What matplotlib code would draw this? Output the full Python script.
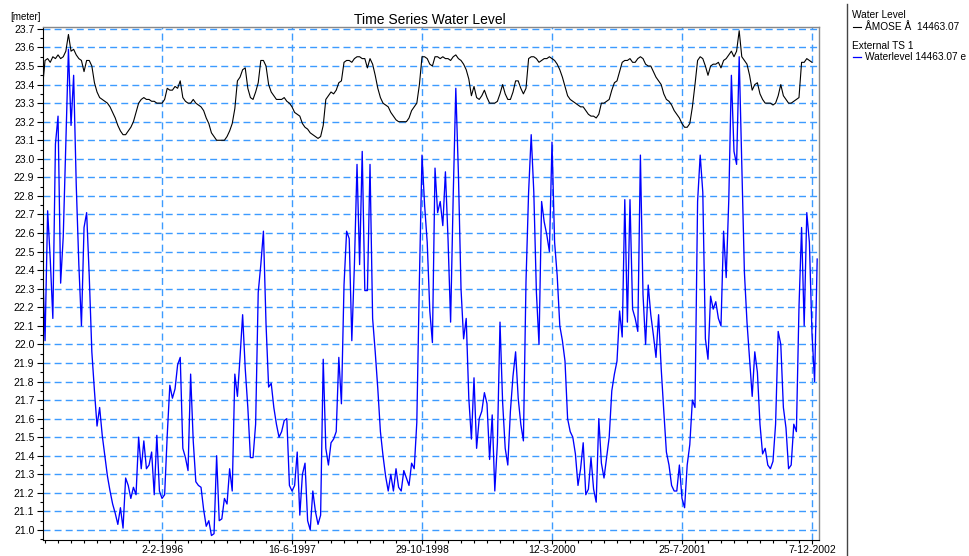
import matplotlib
matplotlib.use("Agg")
import matplotlib.pyplot as plt
import matplotlib.dates as mdates
from matplotlib.ticker import FixedLocator, MultipleLocator, FuncFormatter
from matplotlib.lines import Line2D
import pandas as pd

plt.rcParams['font.family'] = ['Liberation Sans', 'DejaVu Sans']

# samples every 10 days
start_date = "1994-10-30"
step_days = 10

water_level = [
    23.38, 23.53, 23.54, 23.52, 23.55, 23.54, 23.56, 23.54, 23.55, 23.58,
    23.67, 23.58, 23.59, 23.56, 23.54, 23.53, 23.47, 23.53, 23.53, 23.50,
    23.41, 23.36, 23.33, 23.32, 23.31, 23.30, 23.28, 23.25, 23.22, 23.18,
    23.15, 23.13, 23.13, 23.15, 23.17, 23.20, 23.25, 23.30, 23.32, 23.33,
    23.32, 23.32, 23.31, 23.31, 23.30, 23.30, 23.30, 23.32, 23.38, 23.37,
    23.37, 23.39, 23.38, 23.42, 23.33, 23.31, 23.30, 23.30, 23.32, 23.30,
    23.29, 23.28, 23.26, 23.22, 23.19, 23.14, 23.12, 23.10, 23.10, 23.10,
    23.10, 23.12, 23.15, 23.19, 23.27, 23.42, 23.44, 23.48, 23.49, 23.38,
    23.33, 23.32, 23.36, 23.41, 23.53, 23.53, 23.50, 23.40, 23.36, 23.34,
    23.32, 23.32, 23.32, 23.33, 23.31, 23.30, 23.28, 23.25, 23.24, 23.23,
    23.19, 23.17, 23.16, 23.14, 23.13, 23.12, 23.11, 23.12, 23.18, 23.32,
    23.34, 23.36, 23.35, 23.37, 23.41, 23.42, 23.52, 23.53, 23.53, 23.52,
    23.54, 23.55, 23.55, 23.54, 23.54, 23.49, 23.54, 23.51, 23.45, 23.38,
    23.33, 23.30, 23.29, 23.28, 23.25, 23.23, 23.21, 23.20, 23.20, 23.20,
    23.20, 23.22, 23.26, 23.28, 23.30, 23.40, 23.55, 23.55, 23.54, 23.51,
    23.50, 23.55, 23.55, 23.54, 23.55, 23.54, 23.54, 23.53, 23.55, 23.56,
    23.54, 23.53, 23.51, 23.48, 23.43, 23.34, 23.39, 23.33, 23.32, 23.34,
    23.37, 23.33, 23.30, 23.30, 23.30, 23.31, 23.35, 23.40, 23.35, 23.32,
    23.32, 23.36, 23.42, 23.42, 23.38, 23.35, 23.38, 23.54, 23.55, 23.55,
    23.54, 23.52, 23.53, 23.54, 23.54, 23.55, 23.54, 23.53, 23.51, 23.48,
    23.44, 23.39, 23.34, 23.32, 23.31, 23.30, 23.29, 23.28, 23.28, 23.26,
    23.24, 23.23, 23.23, 23.22, 23.24, 23.30, 23.30, 23.31, 23.32, 23.37,
    23.41, 23.42, 23.47, 23.52, 23.53, 23.53, 23.54, 23.52, 23.52, 23.54,
    23.55, 23.54, 23.51, 23.50, 23.50, 23.47, 23.44, 23.42, 23.40, 23.35,
    23.32, 23.31, 23.29, 23.26, 23.24, 23.22, 23.19, 23.17, 23.17, 23.19,
    23.28, 23.40, 23.53, 23.55, 23.54, 23.50, 23.45, 23.50, 23.51, 23.51,
    23.52, 23.49, 23.53, 23.54, 23.56, 23.58, 23.55, 23.58, 23.69, 23.55,
    23.53, 23.51, 23.45, 23.37, 23.40, 23.41, 23.35, 23.32, 23.30, 23.30,
    23.30, 23.29, 23.30, 23.34, 23.40, 23.34, 23.32, 23.30, 23.30, 23.31,
    23.32, 23.33, 23.52, 23.52, 23.54, 23.53, 23.52,
]

external_ts = [
    22.46, 22.02, 22.72, 22.46, 22.14, 23.08, 23.23, 22.33, 22.58, 23.09,
    23.59, 23.18, 23.45, 22.86, 22.43, 22.10, 22.63, 22.71, 22.37, 21.96,
    21.75, 21.56, 21.66, 21.51, 21.40, 21.29, 21.21, 21.14, 21.09, 21.03,
    21.12, 21.01, 21.28, 21.24, 21.17, 21.23, 21.19, 21.50, 21.33, 21.48,
    21.33, 21.35, 21.42, 21.19, 21.51, 21.21, 21.17, 21.19, 21.51, 21.78,
    21.71, 21.76, 21.89, 21.93, 21.44, 21.39, 21.32, 21.84, 21.48, 21.26,
    21.24, 21.23, 21.11, 21.02, 21.05, 20.97, 20.98, 21.40, 21.05, 21.06,
    21.17, 21.14, 21.33, 21.21, 21.84, 21.72, 21.93, 22.16, 21.87, 21.66,
    21.39, 21.39, 21.57, 22.28, 22.43, 22.61, 22.11, 21.77, 21.79, 21.66,
    21.57, 21.50, 21.53, 21.59, 21.60, 21.24, 21.21, 21.24, 21.42, 21.08,
    21.30, 21.36, 21.05, 21.00, 21.21, 21.10, 21.03, 21.08, 21.92, 21.44,
    21.35, 21.47, 21.49, 21.53, 21.93, 21.68, 22.32, 22.61, 22.57, 22.02,
    22.43, 22.97, 22.43, 23.04, 22.29, 22.29, 22.97, 22.14, 21.96, 21.76,
    21.53, 21.40, 21.29, 21.21, 21.30, 21.21, 21.33, 21.23, 21.21, 21.32,
    21.28, 21.24, 21.36, 21.33, 21.58, 22.35, 23.02, 22.75, 22.55, 22.18,
    22.01, 22.95, 22.71, 22.77, 22.64, 22.93, 22.57, 22.12, 22.80, 23.38,
    22.92, 22.30, 22.03, 22.14, 21.71, 21.49, 21.82, 21.44, 21.60, 21.64,
    21.74, 21.68, 21.38, 21.62, 21.21, 21.47, 22.12, 21.69, 21.44, 21.35,
    21.64, 21.83, 21.96, 21.71, 21.57, 21.48, 22.34, 22.82, 23.13, 22.82,
    22.28, 22.00, 22.77, 22.66, 22.59, 22.50, 23.09, 22.55, 22.37, 22.10,
    22.02, 21.91, 21.60, 21.53, 21.50, 21.41, 21.24, 21.33, 21.47, 21.19,
    21.22, 21.39, 21.22, 21.15, 21.60, 21.36, 21.28, 21.39, 21.50, 21.75,
    21.84, 21.91, 22.18, 22.04, 22.78, 22.12, 22.78, 22.19, 22.14, 22.07,
    23.02, 22.27, 22.00, 22.32, 22.16, 22.05, 21.93, 22.16, 21.87, 21.64,
    21.42, 21.35, 21.24, 21.21, 21.21, 21.35, 21.17, 21.12, 21.35, 21.46,
    21.70, 21.66, 22.77, 23.02, 22.82, 22.03, 21.92, 22.26, 22.19, 22.23,
    22.14, 22.10, 22.61, 22.36, 22.78, 23.45, 23.04, 22.97, 23.55, 22.97,
    22.39, 22.12, 21.92, 21.72, 21.96, 21.85, 21.57, 21.41, 21.44, 21.35,
    21.33, 21.37, 21.57, 22.07, 22.00, 21.66, 21.55, 21.33, 21.35, 21.57,
    21.53, 22.20, 22.63, 22.10, 22.71, 22.55, 22.06, 21.80, 22.46,
]

major_tick_start = "1996-02-02"
major_tick_days = 500
minor_tick_days = 50

title = "Time Series Water Level"
unit_label = "[meter]"
legend_group_1 = "Water Level"
legend_label_1 = "ÅMOSE Å  14463.07"
legend_group_2 = "External TS 1"
legend_label_2 = "Waterlevel 14463.07 e"

dates_wl = pd.date_range(start_date, periods=len(water_level), freq=f"{step_days}D")
dates_ext = pd.date_range(start_date, periods=len(external_ts), freq=f"{step_days}D")

W, H = 970, 556
fig = plt.figure(figsize=(W / 100, H / 100), dpi=100)
ax = fig.add_axes([42.7 / W, 16 / H, 776.3 / W, 513.5 / H])

ax.plot(dates_wl, water_level, color='black', lw=0.8)
ax.plot(dates_ext, external_ts, color='#0000ff', lw=0.95)

t0 = pd.Timestamp(start_date)
ax.set_xlim(t0 + pd.Timedelta(days=1), t0 + pd.Timedelta(days=2987))
ax.set_ylim(20.946, 23.713)

majors = pd.date_range(major_tick_start, periods=6, freq=f"{major_tick_days}D")
minors = pd.date_range(pd.Timestamp(major_tick_start) - pd.Timedelta(days=major_tick_days),
                       periods=70, freq=f"{minor_tick_days}D")
ax.xaxis.set_major_locator(FixedLocator(mdates.date2num(majors)))
ax.xaxis.set_minor_locator(FixedLocator(mdates.date2num(minors)))


def date_label(v, pos):
    d = mdates.num2date(v)
    return f"{d.day}-{d.month}-{d.year}"


ax.xaxis.set_major_formatter(FuncFormatter(date_label))
ax.yaxis.set_major_locator(MultipleLocator(0.1))
ax.yaxis.set_minor_locator(MultipleLocator(0.05))
ax.yaxis.set_major_formatter(FuncFormatter(lambda v, p: f"{v:.1f}"))

ax.tick_params(which='both', direction='out', color='black', width=0.8,
               labelsize=7.5, pad=2)
ax.tick_params(which='major', length=4)
ax.tick_params(which='minor', length=2)
ax.tick_params(axis='x', which='major', length=3, pad=0.5)

ax.set_axisbelow(True)
ax.grid(True, which='major', color='#3d9bff', linestyle=(0, (5, 3)), lw=1.0)

for side in ['top', 'right']:
    ax.spines[side].set_color('#888888')
    ax.spines[side].set_linewidth(1.0)
for side in ['left', 'bottom']:
    ax.spines[side].set_color('black')
    ax.spines[side].set_linewidth(0.8)

fig.text(430 / W, 1 - 20 / H, title, ha='center', va='center', fontsize=10)
fig.text(10 / W, 1 - 17 / H, unit_label, ha='left', va='center', fontsize=7)

# legend panel on the right
fig.add_artist(Line2D([847 / W, 847 / W], [0, 1 - 4 / H], color='#444444', lw=1.0))
fig.text(852 / W, 1 - 15 / H, legend_group_1, ha='left', va='center', fontsize=7.3)
fig.add_artist(Line2D([853 / W, 861 / W], [1 - 27 / H] * 2, color='black', lw=0.8))
fig.text(865 / W, 1 - 27 / H, legend_label_1, ha='left', va='center', fontsize=7.3)
fig.text(852 / W, 1 - 46 / H, legend_group_2, ha='left', va='center', fontsize=7.3)
fig.add_artist(Line2D([853 / W, 861 / W], [1 - 57 / H] * 2, color='#0000ff', lw=0.9))
fig.text(865 / W, 1 - 57 / H, legend_label_2, ha='left', va='center', fontsize=7.3)

fig.savefig("out.png", dpi=100)
